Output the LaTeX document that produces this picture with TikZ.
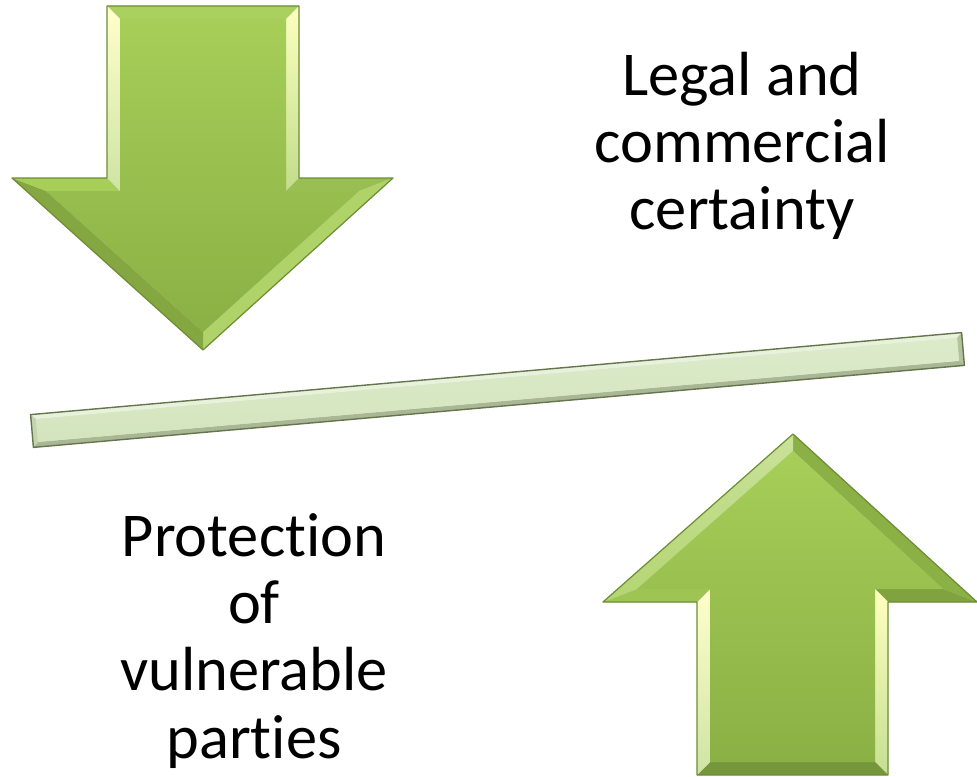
\documentclass[tikz,border=0pt]{standalone}
\usepackage{fontspec}
\setmainfont[Ligatures=NoCommon]{Carlito}
\definecolor{arrtop}{HTML}{A6CE58}
\definecolor{arrbot}{HTML}{8BB045}
\definecolor{arredge}{HTML}{6E8E34}
\definecolor{barface}{HTML}{D3E5BD}
\definecolor{baredge}{HTML}{66764C}

\begin{document}
\begin{tikzpicture}[line cap=round,line join=round,x=0.02cm,y=-0.02cm,
    facet/.style={fill=#1,draw=none},
    rim/.style={draw=arredge,line width=0.7pt},
    dropshadow/.style={fill=black,opacity=0.08},
    bigtext/.style={font=\fontsize{35.5pt}{38.2pt}\selectfont,align=center,inner sep=0pt}]
					\useasboundingbox (0,0) rectangle (977,777);

					% down arrow, outer and inner outline
					\coordinate (dA) at (107,6);
					\coordinate (dB) at (299,6);
					\coordinate (dC) at (299,178);
					\coordinate (dD) at (393,178);
					\coordinate (dE) at (203,350);
					\coordinate (dF) at (12,178);
					\coordinate (dG) at (107,178);
					\coordinate (da) at (120,19);
					\coordinate (db) at (286,19);
					\coordinate (dc) at (286,191);
					\coordinate (dd) at (359,191);
					\coordinate (de) at (203,332);
					\coordinate (df) at (46,191);
					\coordinate (dg) at (120,191);

					% up arrow
					\coordinate (uT) at (793,434);
					\coordinate (uR) at (977,602);
					\coordinate (uS) at (888,602);
					\coordinate (uU) at (888,775);
					\coordinate (uV) at (697,775);
					\coordinate (uW) at (697,602);
					\coordinate (uL) at (603,602);
					\coordinate (ut) at (793,451);
					\coordinate (ur) at (943,589);
					\coordinate (us) at (875,589);
					\coordinate (uu) at (875,762);
					\coordinate (uv) at (710,762);
					\coordinate (uw) at (710,589);
					\coordinate (ul) at (637,589);

					% tilted bar
					\coordinate (bA) at (30.6,414.6);
					\coordinate (bB) at (961.6,332.6);
					\coordinate (bC) at (964.4,365.4);
					\coordinate (bD) at (33.4,447.4);
					\coordinate (ba) at (36.0,419.1);
					\coordinate (bb) at (957.1,338.0);
					\coordinate (bc) at (959.0,360.9);
					\coordinate (bd) at (37.9,442.0);

					% soft shadows
					\foreach \s in {3,5,7} {
						\fill [dropshadow,shift={(\s,\s)}] (dA)--(dB)--(dC)--(dD)--(dE)--(dF)--(dG)--cycle;
						\fill [dropshadow,shift={(\s,\s)}] (uT)--(uR)--(uS)--(uU)--(uV)--(uW)--(uL)--cycle;
						\fill [dropshadow,shift={(\s,\s)}] (bA)--(bB)--(bC)--(bD)--cycle;
					}

					% bar
					\fill [barface] (bA)--(bB)--(bC)--(bD)--cycle;
					\fill [facet=white!45!barface] (bA)--(bB)--(bb)--(ba)--cycle;
					\fill [facet=barface!85!black] (bB)--(bC)--(bc)--(bb)--cycle;
					\fill [facet=barface!80!black] (bC)--(bD)--(bd)--(bc)--cycle;
					\fill [facet=barface!93!black] (bD)--(bA)--(ba)--(bd)--cycle;
					\shade [top color=barface!80!white,bottom color=barface] (ba)--(bb)--(bc)--(bd)--cycle;
					\draw [draw=baredge,line width=0.8pt] (bA)--(bB)--(bC)--(bD)--cycle;

					% down arrow
					\fill [facet=arrtop!95!white] (dA)--(dB)--(db)--(da)--cycle;
					\shade [top color=green!5!yellow!25!white,bottom color=arrtop!70!white] (dB)--(dC)--(dc)--(db)--cycle;
					\fill [facet=arrtop!92!black] (dC)--(dD)--(dd)--(dc)--cycle;
					\fill [facet=arrtop!90!white] (dD)--(dE)--(de)--(dd)--cycle;
					\fill [facet=arrbot!95!black] (dE)--(dF)--(df)--(de)--cycle;
					\fill [facet=arrtop] (dF)--(dG)--(dg)--(df)--cycle;
					\shade [top color=yellow!20!white,bottom color=arrtop!55!white] (dG)--(dA)--(da)--(dg)--cycle;
					\shade [top color=arrtop,bottom color=arrbot] (da)--(db)--(dc)--(dd)--(de)--(df)--(dg)--cycle;
					\draw [rim] (dA)--(dB)--(dC)--(dD)--(dE)--(dF)--(dG)--cycle;

					% up arrow
					\fill [facet=arrbot] (uT)--(uR)--(ur)--(ut)--cycle;
					\fill [facet=arrbot!92!black] (uR)--(uS)--(us)--(ur)--cycle;
					\shade [top color=yellow!25!white,bottom color=arrtop!65!white] (uS)--(uU)--(uu)--(us)--cycle;
					\fill [facet=arrbot!85!black] (uU)--(uV)--(uv)--(uu)--cycle;
					\shade [top color=yellow!20!white,bottom color=arrtop!55!white] (uV)--(uW)--(uw)--(uv)--cycle;
					\fill [facet=arrtop!95!black] (uW)--(uL)--(ul)--(uw)--cycle;
					\shade [top color=arrtop!60!white,bottom color=arrtop!85!white] (uL)--(uT)--(ut)--(ul)--cycle;
					\shade [top color=arrtop,bottom color=arrbot] (ut)--(ur)--(us)--(uu)--(uv)--(uw)--(ul)--cycle;
					\draw [rim] (uT)--(uR)--(uS)--(uU)--(uV)--(uW)--(uL)--cycle;

					\node [bigtext] (legal) at (742,146) {Legal and\\commercial\\certainty};
					\node [bigtext] (protect) at (254,641) {Protection\\of\\vulnerable\\parties};
				\end{tikzpicture}
\end{document}
